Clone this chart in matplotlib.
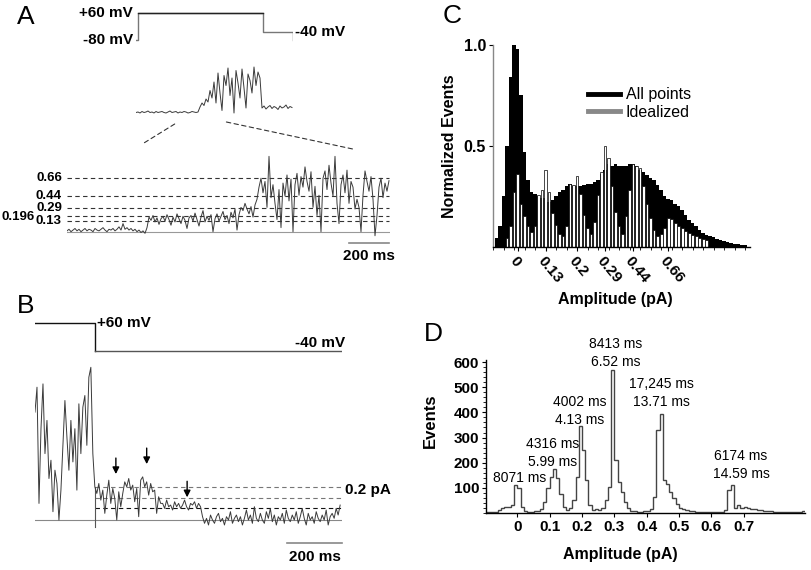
import numpy as np
import matplotlib
matplotlib.use("Agg")
import matplotlib.pyplot as plt
from matplotlib.lines import Line2D
from matplotlib.patches import ConnectionPatch
from matplotlib.ticker import MultipleLocator

plt.rcParams.update({
    "font.family": ["Liberation Sans", "DejaVu Sans"],
    "font.size": 11,
    "axes.linewidth": 1.0,
})

W, H = 812, 570

# ── Panel A: voltage protocol (ms, mV) ─────────────────────────────────────
prot_a_t = [0, 20, 20, 1270, 1270, 1565, 1565]
prot_a_v = [-80, -80, 60, 60, -40, -40, -80]

# whole sweep (pA), one sample every 20 ms
sweep_a = [
    0.01, 0.02, 0.00, 0.03, 0.01, 0.02, 0.04, 0.01, 0.02, 0.00,
    0.03, 0.01, 0.02, 0.03, 0.01, 0.00, 0.02, 0.04, 0.01, 0.02,
    0.03, 0.00, 0.02, 0.01, 0.03, 0.02, 0.00, 0.01, 0.03, 0.02,
    0.01, 0.02,
    0.12, 0.20, 0.15, 0.28, 0.22,
    0.45, 0.30, 0.62, 0.20, 0.80, 0.40, 0.05, 0.75, 0.55, 0.90,
    0.35, 0.70, 0.00, 0.85, 0.60, 0.30, 0.88, 0.50, 0.10, 0.78,
    0.65, 0.40, 0.92, 0.55, 0.82, 0.70,
    0.10, 0.14, 0.08, 0.12, 0.15, 0.09, 0.13, 0.11, 0.07, 0.14,
    0.10, 0.12, 0.16, 0.09, 0.13, 0.11,
]

# expanded stretch (pA), one sample every 10 ms
trace_a = [
    0.01, 0.03, 0.00, 0.02, 0.04, 0.01, 0.03, 0.00, 0.02, 0.04,
    0.01, 0.03, 0.02, 0.00, 0.04, 0.02, 0.01, 0.03, 0.05, 0.02,
    0.00, 0.03, 0.02, 0.04, 0.01, 0.03, 0.06, 0.02, 0.10, 0.03,
    0.05, 0.02, 0.04, 0.01, 0.03, 0.00, 0.02, -0.01, 0.01, -0.02,
    0.05, 0.18, 0.14, 0.20, 0.12, 0.17, 0.09, 0.16, 0.19, 0.13,
    0.21, 0.15, 0.08, 0.18, 0.12, 0.22, 0.16, 0.10, 0.19, 0.14,
    0.04, 0.17, 0.20, 0.13, 0.23, 0.15, 0.07, 0.18, 0.26, 0.12,
    0.19, 0.14, 0.21, 0.00, 0.16, 0.22, 0.13, 0.19, 0.25, 0.15,
    0.20, 0.10, 0.24, 0.17, 0.28, 0.02, 0.21,
    0.30, 0.26, 0.35, 0.28, 0.22, 0.31, 0.18, 0.33, 0.40,
    0.55, 0.66, 0.48, 0.62, 0.30, 0.93, 0.42, 0.58, 0.35, 0.15,
    0.52, 0.05, 0.60, 0.44, 0.70, 0.38, 0.65, 0.00, 0.58, 0.72,
    0.45, 0.68, 0.55, 0.80, 0.62, 0.50, 0.74, 0.30, 0.56, 0.20,
    0.45, 0.00, 0.66, 0.75, 0.52, 0.82, 0.60, 0.44, 0.93, 0.35,
    0.10, 0.58, 0.70, 0.48, 0.76, 0.35, 0.62, 0.55, 0.28, 0.40,
    0.30, 0.00, 0.45, 0.75, 0.62, 0.50, 0.68, 0.40, -0.05, 0.20,
    0.55, 0.66, 0.42, 0.60, 0.50, 0.63,
]
levels_a = [0.13, 0.196, 0.29, 0.44, 0.66]
level_labels_a = ["0.13", "0.196", "0.29", "0.44", "0.66"]

# ── Panel B ────────────────────────────────────────────────────────────────
prot_b_t = [0, 218, 218, 1116]
prot_b_v = [60, 60, -40, -40]

# tail current (pA), one sample every 7.25 ms
trace_b = [
    0.65, 0.80, 0.10, 0.55, 0.82, 0.40, 0.60, 0.25, 0.36, 0.05,
    0.30, 0.22, 0.00, 0.18, 0.45, 0.72, 0.50, 0.30, 0.60, 0.35,
    0.55, 0.18, 0.70, 0.40, 0.68, 0.75, 0.45, 0.86, 0.92, 0.40,
    0.20, 0.16, 0.22, 0.12, 0.18, 0.04, 0.15, 0.24, 0.10, 0.19,
    0.13, 0.00, 0.17, 0.08, 0.16, 0.23, 0.20, 0.25, 0.18, 0.21,
    0.11, 0.19, 0.02, 0.24, 0.26, 0.20, 0.23, 0.15, 0.22, 0.17,
    0.18, 0.04, 0.14, 0.10,
    0.10, 0.07, 0.12, 0.08, 0.09, 0.06, 0.11, 0.08, 0.10, 0.07,
    0.09, 0.12, 0.08, 0.06, 0.10, 0.09, 0.11, 0.07, 0.10, 0.08,
    0.02, -0.02, 0.01, -0.03, 0.03, 0.00, -0.02, 0.02, 0.04, -0.01,
    0.01, -0.03, 0.02, 0.00, 0.05, -0.02, 0.01, 0.03, -0.01, 0.02,
    -0.03, 0.01, 0.06, 0.00, 0.03, -0.02, 0.08, 0.01, -0.01, 0.04,
    0.00, -0.02, 0.05, 0.01, 0.07, -0.01, 0.03, -0.03, 0.02, 0.00,
    0.04, -0.02, 0.06, 0.01, -0.01, 0.03, 0.00, 0.05, -0.02, 0.02,
    0.07, 0.01, -0.03, 0.04, 0.00, 0.02, -0.02, 0.05, 0.01, -0.01,
    0.03, 0.00, 0.06, -0.03, 0.02, 0.04, 0.01, 0.07, 0.03, 0.09,
]
levels_b = [0.07, 0.135, 0.2]
arrows_b_t = [294, 406, 553]
arrows_b_tip = [0.26, 0.32, 0.12]

# ── Panel C: normalized amplitude histograms (bins 1..72) ──────────────────
c_all = [
    0.04, 0.10, 0.25, 0.50, 0.84, 1.00, 0.98, 0.75, 0.47, 0.33,
    0.27, 0.26, 0.25, 0.24, 0.24, 0.22, 0.23, 0.25, 0.27, 0.28,
    0.30, 0.31, 0.30, 0.30, 0.30, 0.305, 0.31, 0.31, 0.32, 0.33,
    0.36, 0.38, 0.41, 0.40, 0.41, 0.40, 0.40, 0.40, 0.41, 0.41,
    0.40, 0.38, 0.37, 0.355, 0.34, 0.33, 0.305, 0.28, 0.25, 0.235,
    0.23, 0.21, 0.20, 0.18, 0.156, 0.13, 0.115, 0.10, 0.08, 0.065,
    0.057, 0.05, 0.045, 0.036, 0.032, 0.029, 0.02, 0.016, 0.013, 0.011,
    0.008, 0.005,
]
c_ideal = [
    0.00, 0.00, 0.00, 0.04, 0.10, 0.27, 0.36, 0.21, 0.15, 0.10,
    0.07, 0.10, 0.255, 0.28, 0.38, 0.27, 0.165, 0.107, 0.06, 0.05,
    0.10, 0.31, 0.305, 0.35, 0.26, 0.156, 0.09, 0.06, 0.123, 0.255,
    0.37, 0.50, 0.44, 0.30, 0.17, 0.10, 0.06, 0.15, 0.28, 0.41,
    0.40, 0.39, 0.30, 0.21, 0.14, 0.08, 0.05, 0.06, 0.09, 0.14,
    0.135, 0.115, 0.10, 0.09, 0.075, 0.065, 0.057, 0.05, 0.04, 0.035,
    0.03,
]
c_tick_bins = [7, 15, 24, 32, 40, 50]
c_tick_labels = ["0", "0.13", "0.2", "0.29", "0.44", "0.66"]

# ── Panel D: idealized event histogram, 0.01 pA bins from -0.10 ────────────
d_counts = [
    2, 3, 3, 5, 10, 18, 22, 25, 32, 110,
    100, 25, 8, 5, 5, 6, 8, 15, 45, 100,
    145, 175, 140, 75, 25, 12, 20, 50, 145, 345,
    250, 130, 30, 12, 15, 10, 20, 50, 104, 568,
    210, 124, 84, 45, 18, 8, 6, 5, 5, 6,
    8, 15, 65, 330, 395, 130, 117, 85, 58, 34,
    21, 14, 12, 8, 6, 5, 4, 4, 3, 3,
    3, 3, 3, 4, 10, 91, 113, 18, 32, 18,
    25, 18, 16, 14, 12, 10, 9, 8, 6, 5,
    5, 4, 3, 4, 3, 3, 2, 3, 6, 2,
]
d_notes = ["8071 ms", "4316 ms\n5.99 ms", "4002 ms\n4.13 ms",
           "8413 ms\n6.52 ms", "17,245 ms\n13.71 ms", "6174 ms\n14.59 ms"]
d_note_x = [0.007, 0.108, 0.194, 0.303, 0.445, 0.692]
d_note_y = [138, 239, 404, 637, 477, 191]


def px_axes(fig, x0, y0, x1, y1):
    ax = fig.add_axes([x0 / W, 1 - y1 / H, (x1 - x0) / W, (y1 - y0) / H])
    return ax


fig = plt.figure(figsize=(W / 100, H / 100), dpi=100)
bold = dict(fontweight="bold")
trace_col = "#3a3a3a"

# ── A: protocol ────────────────────────────────────────────────────────────
ax_pa = px_axes(fig, 136, 5, 293, 45)
ax_pa.set_xlim(0, 1570)
ax_pa.set_ylim(-105.9, 101.5)
ax_pa.axis("off")
ax_pa.plot(prot_a_t, prot_a_v, color="#777", lw=1)
ax_pa.plot(prot_a_t[2:4], prot_a_v[2:4], color="#222", lw=1)
ax_pa.text(-30, 60, "+60 mV", ha="right", va="center", fontsize=11, **bold)
ax_pa.text(-30, -80, "-80 mV", ha="right", va="center", fontsize=11, **bold)
ax_pa.text(1590, -40, "-40 mV", ha="left", va="center", fontsize=11, **bold)

# ── A: whole sweep ─────────────────────────────────────────────────────────
ax_sw = px_axes(fig, 136, 60, 293, 128)
ax_sw.set_xlim(0, 1570)
ax_sw.set_ylim(-0.3, 1.06)
ax_sw.axis("off")
t_sw = np.arange(len(sweep_a)) * 20
ax_sw.plot(t_sw, sweep_a, color=trace_col, lw=0.7)

# ── A: expanded stretch ────────────────────────────────────────────────────
ax_ex = px_axes(fig, 67, 145, 390, 262)
ax_ex.set_xlim(0, 1615)
ax_ex.set_ylim(-0.374, 1.07)
ax_ex.axis("off")
t_ex = np.arange(len(trace_a)) * 10
ax_ex.hlines(levels_a, 0, t_ex[-1], colors="#333", lw=0.8,
             linestyles=(0, (4, 3)))
ax_ex.axhline(0, color="#999", lw=0.8)
ax_ex.plot(t_ex, trace_a, color=trace_col, lw=0.7)
for lev, lab in zip(levels_a, level_labels_a):
    x_lab = -160 if lab == "0.196" else -25
    y_lab = lev - 0.01 if lab == "0.196" else lev
    ax_ex.text(x_lab, y_lab, lab, ha="right", va="center", fontsize=9.5, **bold)
ax_ex.plot([1410, 1610], [-0.14, -0.14], color="#888", lw=1.2, clip_on=False)
ax_ex.text(1510, -0.30, "200 ms", ha="center", va="center", fontsize=11, **bold)

for xa, ya, xb, yb in [(387, -0.22, 375, 1.08), (904, -0.18, 1430, 1.02)]:
    con = ConnectionPatch(xyA=(xa, ya), coordsA=ax_sw.transData,
                          xyB=(xb, yb), coordsB=ax_ex.transData,
                          color="#333", lw=0.8, linestyle=(0, (4, 3)))
    fig.add_artist(con)

# ── B: protocol ────────────────────────────────────────────────────────────
ax_pb = px_axes(fig, 35, 312, 342, 356)
ax_pb.set_xlim(0, 1116)
ax_pb.set_ylim(-58.9, 98.2)
ax_pb.axis("off")
ax_pb.plot(prot_b_t[:3], prot_b_v[:3], color="#111", lw=1)
ax_pb.plot(prot_b_t[2:], prot_b_v[2:], color="#555", lw=1)
ax_pb.text(225, 60, "+60 mV", ha="left", va="center", fontsize=11, **bold)
ax_pb.text(1127, -13, "-40 mV", ha="right", va="center", fontsize=11, **bold)

# ── B: trace ───────────────────────────────────────────────────────────────
ax_b = px_axes(fig, 35, 360, 342, 560)
ax_b.set_xlim(0, 1116)
ax_b.set_ylim(-0.241, 0.964)
ax_b.axis("off")
t_b = np.arange(len(trace_b)) * 7.25
t_step = prot_b_t[1]
ax_b.hlines(levels_b[1:], t_step, 1116, colors="#777", lw=0.8,
            linestyles=(0, (4, 3)))
ax_b.hlines(levels_b[:1], t_step, 1116, colors="#111", lw=0.8,
            linestyles=(0, (4, 3)))
ax_b.axhline(0, color="#888", lw=0.8)
ax_b.plot([t_step, t_step], [-0.04, levels_b[-1]], color="#555", lw=0.8)
ax_b.plot(t_b, trace_b, color=trace_col, lw=0.7)
for ta, tip in zip(arrows_b_t, arrows_b_tip):
    ax_b.annotate("", xy=(ta, tip), xytext=(ta, tip + 0.13),
                  arrowprops=dict(arrowstyle="-|>", color="black", lw=1,
                                  mutation_scale=10))
ax_b.text(1127, 0.18, "0.2 pA", ha="left", va="center", fontsize=11, **bold)
ax_b.plot([916, 1116], [-0.137, -0.137], color="#888", lw=1.2, clip_on=False)
ax_b.text(1016, -0.221, "200 ms", ha="center", va="center", fontsize=11, **bold)

# ── C: all-points vs idealized histograms ──────────────────────────────────
ax_c = px_axes(fig, 493, 45, 750, 246.5)
bins_all = np.arange(1, len(c_all) + 1)
bins_ideal = np.arange(1, len(c_ideal) + 1)
ax_c.bar(bins_all, c_all, width=1.0, color="black", lw=0)
ax_c.bar(bins_ideal, c_ideal, width=0.82, color="white",
         edgecolor="black", lw=0.5)
ax_c.set_xlim(0, 73.4)
ax_c.set_ylim(0, 1.0)
ax_c.spines[["top", "right"]].set_visible(False)
ax_c.spines["left"].set_color("#888")
ax_c.set_yticks([0.5, 1.0])
ax_c.set_yticklabels(["0.5", "1.0"], fontsize=11.5, **bold)
ax_c.set_xticks(c_tick_bins)
ax_c.set_xticklabels(c_tick_labels, fontsize=11, rotation=-50, ha="left",
                     va="top", rotation_mode="anchor", **bold)
ax_c.xaxis.set_minor_locator(MultipleLocator(3))
ax_c.tick_params(axis="both", which="major", length=3, width=0.8, pad=2)
ax_c.tick_params(axis="x", which="minor", length=2, width=0.6)
ax_c.set_ylabel("Normalized Events", fontsize=11.5, **bold)
ax_c.yaxis.set_label_coords(-0.14, 0.5)
ax_c.set_xlabel("Amplitude (pA)", fontsize=11.5, **bold)
ax_c.xaxis.set_label_coords(0.475, -0.226)
handles = [Line2D([0], [0], color="black", lw=3.5),
           Line2D([0], [0], color="#888", lw=3.5)]
ax_c.legend(handles, ["All points", "Idealized"], loc="upper left",
            bbox_to_anchor=(0.37, 0.79), frameon=False, borderaxespad=0,
            borderpad=0, handlelength=2.0, handletextpad=0.35,
            labelspacing=0.15, prop=dict(size=11.5))

# ── D: idealized event histogram ───────────────────────────────────────────
ax_d = px_axes(fig, 486, 359.6, 805, 513)
d_edges = np.round(-0.10 + 0.01 * np.arange(len(d_counts) + 1), 2)
ax_d.stairs(d_counts, d_edges, color="#444", lw=1.0)
ax_d.set_xlim(-0.097, 0.89)
ax_d.set_ylim(0, 610)
ax_d.spines[["top", "right"]].set_visible(False)
ax_d.set_xticks(np.round(np.arange(0, 0.71, 0.1), 1))
ax_d.set_xticklabels(["0", "0.1", "0.2", "0.3", "0.4", "0.5", "0.6", "0.7"],
                     fontsize=11, **bold)
ax_d.set_yticks(range(100, 601, 100))
ax_d.set_yticklabels([str(v) for v in range(100, 601, 100)],
                     fontsize=11, **bold)
ax_d.yaxis.set_minor_locator(MultipleLocator(20))
ax_d.tick_params(axis="both", which="major", length=3, width=0.8, pad=2)
ax_d.tick_params(axis="y", which="minor", length=2, width=0.6)
ax_d.set_ylabel("Events", fontsize=12, **bold)
ax_d.yaxis.set_label_coords(-0.15, 0.6)
ax_d.set_xlabel("Amplitude (pA)", fontsize=11.5, **bold)
ax_d.xaxis.set_label_coords(0.42, -0.22)
for note, nx, ny in zip(d_notes, d_note_x, d_note_y):
    ax_d.text(nx, ny, note, ha="center", va="center", fontsize=10,
              linespacing=1.35, clip_on=False)

# ── panel letters ──────────────────────────────────────────────────────────
for letter, lx, ly in [("A", 26, 17), ("B", 26, 306), ("C", 452, 16), ("D", 433, 334)]:
    fig.text(lx / W, 1 - ly / H, letter, ha="center", va="center", fontsize=19)

fig.savefig("out.png", dpi=100, facecolor="white")
